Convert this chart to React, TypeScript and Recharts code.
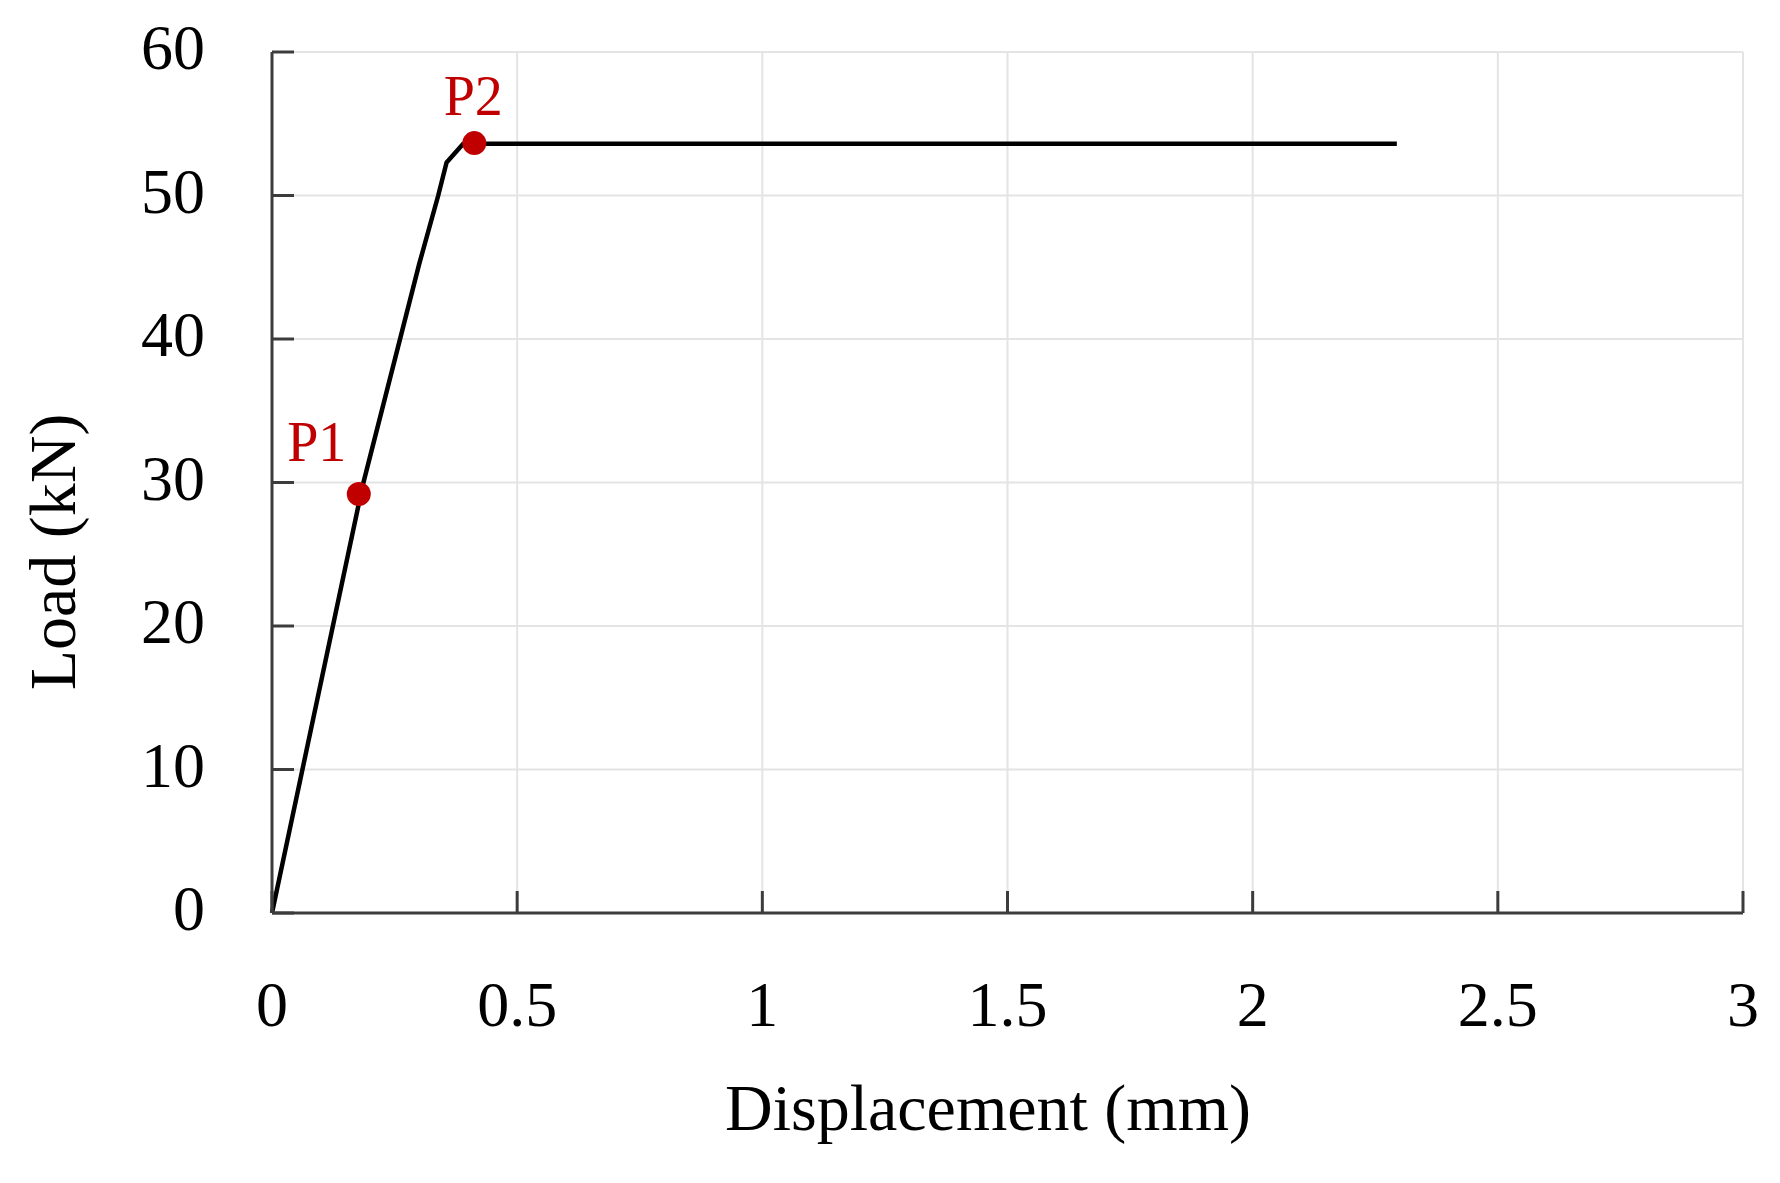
import { ComposedChart, Line, Scatter, XAxis, YAxis, CartesianGrid } from "recharts";

// load-displacement curve
const displacement = [0, 0.185, 0.3, 0.339, 0.356, 0.39, 2.294];
const load = [0, 29.8, 45.2, 50, 52.3, 53.6, 53.6];

// marked points
const markerNames = ["P1", "P2"];
const markerX = [0.177, 0.4126];
const markerY = [29.2, 53.65];

const xTicks = [0, 0.5, 1, 1.5, 2, 2.5, 3];
const yTicks = [0, 10, 20, 30, 40, 50, 60];

const curve = displacement.map((x, i) => ({ x, y: load[i] }));
const markers = markerNames.map((name, i) => ({ name, x: markerX[i], y: markerY[i] }));

const FONT = "'Liberation Serif', 'Times New Roman', serif";
const RED = "#c00000";
const FRAME = "#3c3c3c";
const labelOffset: Record<string, [number, number]> = { P1: [-42, -33], P2: [-1, -28] };

const XTick = ({ x, y, payload }: any) => (
    <text x={x} y={y} dy={113} textAnchor="middle" fontFamily={FONT} fontSize={64} fill="#000">
        {payload.value}
    </text>
);

const YTick = ({ x, y, payload }: any) => (
    <text x={x} y={y} dy={17} textAnchor="end" fontFamily={FONT} fontSize={64} fill="#000">
        {payload.value}
    </text>
);

const Marker = (p: any) => {
    const [dx, dy] = labelOffset[p.payload.name] || [0, -30];
    return (
        <g>
            <circle cx={p.cx} cy={p.cy} r={12} fill={RED} />
            <text x={p.cx + dx} y={p.cy + dy} textAnchor="middle" fontFamily={FONT} fontSize={56} fill={RED}>
                {p.payload.name}
            </text>
        </g>
    );
};

export default function App() {
    return (
        <div style={{ width: 1780, height: 1183, background: "#fff" }}>
            <style>{"body{margin:0}"}</style>
            <ComposedChart width={1780} height={1183} data={curve} margin={{ top: 52, right: 37, left: 0, bottom: 0 }}>
                <CartesianGrid stroke="#e4e4e4" strokeWidth={2} />
                <XAxis
                    dataKey="x"
                    type="number"
                    domain={[0, 3]}
                    ticks={xTicks}
                    height={270}
                    tickSize={-22}
                    tickMargin={22}
                    tick={<XTick />}
                    tickLine={{ stroke: FRAME, strokeWidth: 3 }}
                    axisLine={{ stroke: FRAME, strokeWidth: 3 }}
                    label={{
                        content: () => (
                            <text x={988} y={1130} textAnchor="middle" fontFamily={FONT} fontSize={66} fill="#000">
                                Displacement (mm)
                            </text>
                        ),
                    }}
                />
                <XAxis
                    xAxisId="top"
                    orientation="top"
                    type="number"
                    domain={[0, 3]}
                    height={0}
                    tick={false}
                    tickLine={false}
                    axisLine={{ stroke: FRAME, strokeWidth: 3 }}
                />
                <YAxis
                    type="number"
                    domain={[0, 60]}
                    ticks={yTicks}
                    width={272}
                    tickSize={-22}
                    tickMargin={89}
                    tick={<YTick />}
                    tickLine={{ stroke: FRAME, strokeWidth: 3 }}
                    axisLine={{ stroke: FRAME, strokeWidth: 3 }}
                    label={{
                        content: () => (
                            <text
                                x={75}
                                y={552}
                                transform="rotate(-90 75 552)"
                                textAnchor="middle"
                                fontFamily={FONT}
                                fontSize={66}
                                fill="#000"
                            >
                                Load (kN)
                            </text>
                        ),
                    }}
                />
                <YAxis
                    yAxisId="right"
                    orientation="right"
                    type="number"
                    domain={[0, 60]}
                    width={0}
                    tick={false}
                    tickLine={false}
                    axisLine={{ stroke: FRAME, strokeWidth: 3 }}
                />
                <Line
                    dataKey="y"
                    type="linear"
                    stroke="#000"
                    strokeWidth={4.5}
                    strokeLinejoin="round"
                    dot={false}
                    activeDot={false}
                    isAnimationActive={false}
                />
                <Scatter data={markers} dataKey="y" shape={<Marker />} isAnimationActive={false} />
            </ComposedChart>
        </div>
    );
}
